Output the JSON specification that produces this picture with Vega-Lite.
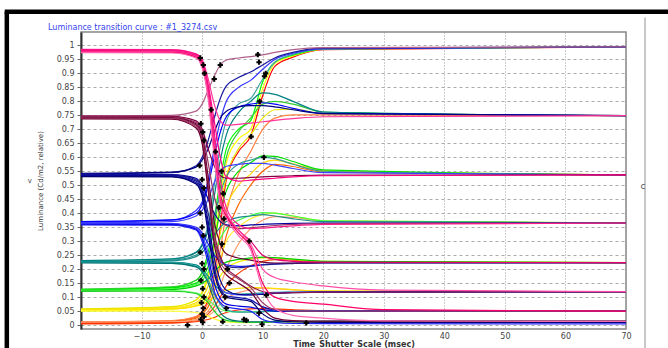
{
"$schema": "https://vega.github.io/schema/vega-lite/v6.json",
"width": 545, "height": 297,
"autosize": {"type": "none"},
"padding": {"left": 81, "top": 32, "right": 42, "bottom": 19},
"background": "white",
"title": {"text": "Luminance transition curve : #1_3274.csv", "anchor": "start", "frame": "group", "dx": -33, "offset": -30, "baseline": "bottom", "font": "DejaVu Sans", "fontSize": 8, "fontWeight": "normal", "color": "#3344ee"},
"config": {
 "view": {"stroke": "#888", "strokeWidth": 1.5},
 "axisY": {"tickCount": 21, "labelOverlap": false, "labelFlush": false, "labelFont": "DejaVu Sans", "labelFontSize": 8, "labelColor": "#444", "tickColor": "#666", "tickSize": 4, "labelPadding": 3, "domainColor": "#333", "domainWidth": 2, "grid": true, "gridColor": "#aaa", "gridDash": [3,3], "gridWidth": 1, "titleFont": "DejaVu Sans", "titleFontSize": 7, "titleFontWeight": "normal", "titleColor": "#333", "titlePadding": 13, "titleLineHeight": 11},
 "axisX": {"tickCount": 9, "labelOverlap": false, "labelFlush": false, "labelExpr": "datum.value == -20 ? '' : datum.label", "labelFont": "DejaVu Sans", "labelFontSize": 8, "labelColor": "#444", "ticks": false, "domain": false, "labelPadding": 3, "grid": true, "gridColor": "#999", "gridDash": [1,2], "gridWidth": 1, "titleFont": "DejaVu Sans", "titleFontSize": 8, "titleFontWeight": "bold", "titleColor": "#333", "titlePadding": 0}
},
"datasets": {
"curves": [
{"c":"RP","x":-20,"y":0.01},{"c":"RP","x":-5,"y":0.015},{"c":"RP","x":-1,"y":0.03},{"c":"RP","x":0,"y":0.05},{"c":"RP","x":1,"y":0.09},{"c":"RP","x":2,"y":0.18},{"c":"RP","x":3,"y":0.35},{"c":"RP","x":4,"y":0.52},{"c":"RP","x":6,"y":0.62},{"c":"RP","x":8,"y":0.675},{"c":"RP","x":10,"y":0.82},{"c":"RP","x":12,"y":0.925},{"c":"RP","x":15,"y":0.958},{"c":"RP","x":20,"y":0.985},{"c":"RP","x":70,"y":0.995},
{"c":"RM","x":-20,"y":0.012},{"c":"RM","x":-5,"y":0.016},{"c":"RM","x":-1,"y":0.03},{"c":"RM","x":0,"y":0.048},{"c":"RM","x":1,"y":0.08},{"c":"RM","x":2,"y":0.15},{"c":"RM","x":3,"y":0.27},{"c":"RM","x":4,"y":0.4},{"c":"RM","x":6,"y":0.54},{"c":"RM","x":8,"y":0.62},{"c":"RM","x":10,"y":0.7},{"c":"RM","x":12,"y":0.74},{"c":"RM","x":15,"y":0.752},{"c":"RM","x":20,"y":0.752},{"c":"RM","x":70,"y":0.749},
{"c":"RN","x":-20,"y":0.008},{"c":"RN","x":-5,"y":0.012},{"c":"RN","x":-1,"y":0.025},{"c":"RN","x":0,"y":0.04},{"c":"RN","x":1,"y":0.065},{"c":"RN","x":2,"y":0.12},{"c":"RN","x":3,"y":0.22},{"c":"RN","x":4,"y":0.32},{"c":"RN","x":6,"y":0.43},{"c":"RN","x":8,"y":0.5},{"c":"RN","x":10,"y":0.55},{"c":"RN","x":12,"y":0.575},{"c":"RN","x":15,"y":0.567},{"c":"RN","x":20,"y":0.547},{"c":"RN","x":70,"y":0.537},
{"c":"RB","x":-20,"y":0.006},{"c":"RB","x":-5,"y":0.01},{"c":"RB","x":-1,"y":0.02},{"c":"RB","x":0,"y":0.032},{"c":"RB","x":1,"y":0.05},{"c":"RB","x":2,"y":0.085},{"c":"RB","x":3,"y":0.14},{"c":"RB","x":4,"y":0.2},{"c":"RB","x":6,"y":0.29},{"c":"RB","x":8,"y":0.345},{"c":"RB","x":10,"y":0.375},{"c":"RB","x":12,"y":0.388},{"c":"RB","x":15,"y":0.385},{"c":"RB","x":20,"y":0.372},{"c":"RB","x":70,"y":0.365},
{"c":"RT","x":-20,"y":0.004},{"c":"RT","x":-5,"y":0.008},{"c":"RT","x":-1,"y":0.016},{"c":"RT","x":0,"y":0.025},{"c":"RT","x":1,"y":0.04},{"c":"RT","x":2,"y":0.065},{"c":"RT","x":3,"y":0.1},{"c":"RT","x":4,"y":0.14},{"c":"RT","x":6,"y":0.185},{"c":"RT","x":8,"y":0.212},{"c":"RT","x":10,"y":0.228},{"c":"RT","x":12,"y":0.234},{"c":"RT","x":15,"y":0.232},{"c":"RT","x":20,"y":0.227},{"c":"RT","x":70,"y":0.223},
{"c":"RG","x":-20,"y":0.01},{"c":"RG","x":-5,"y":0.012},{"c":"RG","x":-1,"y":0.018},{"c":"RG","x":0,"y":0.024},{"c":"RG","x":1,"y":0.033},{"c":"RG","x":2,"y":0.05},{"c":"RG","x":3,"y":0.075},{"c":"RG","x":4,"y":0.095},{"c":"RG","x":6,"y":0.116},{"c":"RG","x":8,"y":0.127},{"c":"RG","x":10,"y":0.131},{"c":"RG","x":12,"y":0.13},{"c":"RG","x":15,"y":0.126},{"c":"RG","x":20,"y":0.121},{"c":"RG","x":70,"y":0.119},
{"c":"RY","x":-20,"y":0.006},{"c":"RY","x":-5,"y":0.008},{"c":"RY","x":-1,"y":0.012},{"c":"RY","x":0,"y":0.016},{"c":"RY","x":1,"y":0.02},{"c":"RY","x":2,"y":0.027},{"c":"RY","x":3,"y":0.037},{"c":"RY","x":4,"y":0.045},{"c":"RY","x":6,"y":0.054},{"c":"RY","x":8,"y":0.058},{"c":"RY","x":10,"y":0.059},{"c":"RY","x":12,"y":0.058},{"c":"RY","x":15,"y":0.055},{"c":"RY","x":20,"y":0.052},{"c":"RY","x":70,"y":0.05},
{"c":"YP","x":-20,"y":0.056},{"c":"YP","x":-5,"y":0.065},{"c":"YP","x":-1,"y":0.09},{"c":"YP","x":0,"y":0.12},{"c":"YP","x":1,"y":0.18},{"c":"YP","x":2,"y":0.3},{"c":"YP","x":3,"y":0.45},{"c":"YP","x":4,"y":0.58},{"c":"YP","x":6,"y":0.665},{"c":"YP","x":8,"y":0.7},{"c":"YP","x":10,"y":0.845},{"c":"YP","x":12,"y":0.935},{"c":"YP","x":15,"y":0.962},{"c":"YP","x":20,"y":0.987},{"c":"YP","x":70,"y":0.995},
{"c":"YM","x":-20,"y":0.058},{"c":"YM","x":-5,"y":0.066},{"c":"YM","x":-1,"y":0.09},{"c":"YM","x":0,"y":0.115},{"c":"YM","x":1,"y":0.17},{"c":"YM","x":2,"y":0.28},{"c":"YM","x":3,"y":0.42},{"c":"YM","x":4,"y":0.53},{"c":"YM","x":6,"y":0.63},{"c":"YM","x":8,"y":0.68},{"c":"YM","x":10,"y":0.74},{"c":"YM","x":12,"y":0.77},{"c":"YM","x":15,"y":0.772},{"c":"YM","x":20,"y":0.757},{"c":"YM","x":70,"y":0.749},
{"c":"YN","x":-20,"y":0.054},{"c":"YN","x":-5,"y":0.062},{"c":"YN","x":-1,"y":0.08},{"c":"YN","x":0,"y":0.1},{"c":"YN","x":1,"y":0.14},{"c":"YN","x":2,"y":0.22},{"c":"YN","x":3,"y":0.33},{"c":"YN","x":4,"y":0.42},{"c":"YN","x":6,"y":0.5},{"c":"YN","x":8,"y":0.54},{"c":"YN","x":10,"y":0.58},{"c":"YN","x":12,"y":0.59},{"c":"YN","x":15,"y":0.577},{"c":"YN","x":20,"y":0.552},{"c":"YN","x":70,"y":0.537},
{"c":"YB","x":-20,"y":0.052},{"c":"YB","x":-5,"y":0.06},{"c":"YB","x":-1,"y":0.075},{"c":"YB","x":0,"y":0.09},{"c":"YB","x":1,"y":0.115},{"c":"YB","x":2,"y":0.17},{"c":"YB","x":3,"y":0.24},{"c":"YB","x":4,"y":0.3},{"c":"YB","x":6,"y":0.35},{"c":"YB","x":8,"y":0.38},{"c":"YB","x":10,"y":0.395},{"c":"YB","x":12,"y":0.4},{"c":"YB","x":15,"y":0.39},{"c":"YB","x":20,"y":0.373},{"c":"YB","x":70,"y":0.365},
{"c":"YT","x":-20,"y":0.05},{"c":"YT","x":-5,"y":0.057},{"c":"YT","x":-1,"y":0.07},{"c":"YT","x":0,"y":0.08},{"c":"YT","x":1,"y":0.1},{"c":"YT","x":2,"y":0.135},{"c":"YT","x":3,"y":0.175},{"c":"YT","x":4,"y":0.203},{"c":"YT","x":6,"y":0.226},{"c":"YT","x":8,"y":0.236},{"c":"YT","x":10,"y":0.24},{"c":"YT","x":12,"y":0.24},{"c":"YT","x":15,"y":0.235},{"c":"YT","x":20,"y":0.228},{"c":"YT","x":70,"y":0.223},
{"c":"YG","x":-20,"y":0.053},{"c":"YG","x":-5,"y":0.058},{"c":"YG","x":-1,"y":0.068},{"c":"YG","x":0,"y":0.075},{"c":"YG","x":1,"y":0.085},{"c":"YG","x":2,"y":0.1},{"c":"YG","x":3,"y":0.115},{"c":"YG","x":4,"y":0.124},{"c":"YG","x":6,"y":0.131},{"c":"YG","x":8,"y":0.134},{"c":"YG","x":10,"y":0.134},{"c":"YG","x":12,"y":0.131},{"c":"YG","x":15,"y":0.127},{"c":"YG","x":20,"y":0.122},{"c":"YG","x":70,"y":0.119},
{"c":"YR","x":-20,"y":0.051},{"c":"YR","x":-5,"y":0.05},{"c":"YR","x":-1,"y":0.045},{"c":"YR","x":0,"y":0.04},{"c":"YR","x":1,"y":0.032},{"c":"YR","x":2,"y":0.022},{"c":"YR","x":3,"y":0.015},{"c":"YR","x":4,"y":0.011},{"c":"YR","x":6,"y":0.009},{"c":"YR","x":8,"y":0.009},{"c":"YR","x":10,"y":0.01},{"c":"YR","x":12,"y":0.01},{"c":"YR","x":15,"y":0.01},{"c":"YR","x":20,"y":0.01},{"c":"YR","x":70,"y":0.01},
{"c":"GP","x":-20,"y":0.127},{"c":"GP","x":-5,"y":0.135},{"c":"GP","x":-1,"y":0.16},{"c":"GP","x":0,"y":0.19},{"c":"GP","x":1,"y":0.26},{"c":"GP","x":2,"y":0.38},{"c":"GP","x":3,"y":0.52},{"c":"GP","x":4,"y":0.63},{"c":"GP","x":6,"y":0.7},{"c":"GP","x":8,"y":0.73},{"c":"GP","x":10,"y":0.87},{"c":"GP","x":12,"y":0.94},{"c":"GP","x":15,"y":0.965},{"c":"GP","x":20,"y":0.988},{"c":"GP","x":70,"y":0.995},
{"c":"GM","x":-20,"y":0.129},{"c":"GM","x":-5,"y":0.137},{"c":"GM","x":-1,"y":0.16},{"c":"GM","x":0,"y":0.185},{"c":"GM","x":1,"y":0.24},{"c":"GM","x":2,"y":0.35},{"c":"GM","x":3,"y":0.49},{"c":"GM","x":4,"y":0.6},{"c":"GM","x":6,"y":0.69},{"c":"GM","x":8,"y":0.74},{"c":"GM","x":10,"y":0.79},{"c":"GM","x":12,"y":0.8},{"c":"GM","x":15,"y":0.79},{"c":"GM","x":20,"y":0.762},{"c":"GM","x":70,"y":0.749},
{"c":"GN","x":-20,"y":0.125},{"c":"GN","x":-5,"y":0.133},{"c":"GN","x":-1,"y":0.15},{"c":"GN","x":0,"y":0.17},{"c":"GN","x":1,"y":0.21},{"c":"GN","x":2,"y":0.3},{"c":"GN","x":3,"y":0.41},{"c":"GN","x":4,"y":0.48},{"c":"GN","x":6,"y":0.55},{"c":"GN","x":8,"y":0.58},{"c":"GN","x":10,"y":0.605},{"c":"GN","x":12,"y":0.603},{"c":"GN","x":15,"y":0.585},{"c":"GN","x":20,"y":0.555},{"c":"GN","x":70,"y":0.537},
{"c":"GB","x":-20,"y":0.123},{"c":"GB","x":-5,"y":0.13},{"c":"GB","x":-1,"y":0.145},{"c":"GB","x":0,"y":0.16},{"c":"GB","x":1,"y":0.19},{"c":"GB","x":2,"y":0.25},{"c":"GB","x":3,"y":0.31},{"c":"GB","x":4,"y":0.345},{"c":"GB","x":6,"y":0.375},{"c":"GB","x":8,"y":0.392},{"c":"GB","x":10,"y":0.402},{"c":"GB","x":12,"y":0.4},{"c":"GB","x":15,"y":0.39},{"c":"GB","x":20,"y":0.373},{"c":"GB","x":70,"y":0.365},
{"c":"GT","x":-20,"y":0.121},{"c":"GT","x":-5,"y":0.127},{"c":"GT","x":-1,"y":0.14},{"c":"GT","x":0,"y":0.15},{"c":"GT","x":1,"y":0.165},{"c":"GT","x":2,"y":0.19},{"c":"GT","x":3,"y":0.212},{"c":"GT","x":4,"y":0.225},{"c":"GT","x":6,"y":0.235},{"c":"GT","x":8,"y":0.24},{"c":"GT","x":10,"y":0.243},{"c":"GT","x":12,"y":0.241},{"c":"GT","x":15,"y":0.236},{"c":"GT","x":20,"y":0.228},{"c":"GT","x":70,"y":0.223},
{"c":"GY","x":-20,"y":0.124},{"c":"GY","x":-5,"y":0.123},{"c":"GY","x":-1,"y":0.115},{"c":"GY","x":0,"y":0.105},{"c":"GY","x":1,"y":0.09},{"c":"GY","x":2,"y":0.072},{"c":"GY","x":3,"y":0.058},{"c":"GY","x":4,"y":0.05},{"c":"GY","x":6,"y":0.047},{"c":"GY","x":8,"y":0.048},{"c":"GY","x":10,"y":0.049},{"c":"GY","x":12,"y":0.05},{"c":"GY","x":15,"y":0.05},{"c":"GY","x":20,"y":0.05},{"c":"GY","x":70,"y":0.05},
{"c":"GR","x":-20,"y":0.122},{"c":"GR","x":-5,"y":0.121},{"c":"GR","x":-1,"y":0.113},{"c":"GR","x":0,"y":0.1},{"c":"GR","x":1,"y":0.08},{"c":"GR","x":2,"y":0.05},{"c":"GR","x":3,"y":0.028},{"c":"GR","x":4,"y":0.017},{"c":"GR","x":6,"y":0.011},{"c":"GR","x":8,"y":0.01},{"c":"GR","x":10,"y":0.01},{"c":"GR","x":12,"y":0.011},{"c":"GR","x":15,"y":0.012},{"c":"GR","x":20,"y":0.012},{"c":"GR","x":70,"y":0.012},
{"c":"TP","x":-20,"y":0.229},{"c":"TP","x":-5,"y":0.235},{"c":"TP","x":-1,"y":0.26},{"c":"TP","x":0,"y":0.29},{"c":"TP","x":1,"y":0.36},{"c":"TP","x":2,"y":0.5},{"c":"TP","x":3,"y":0.64},{"c":"TP","x":4,"y":0.73},{"c":"TP","x":6,"y":0.79},{"c":"TP","x":8,"y":0.81},{"c":"TP","x":10,"y":0.88},{"c":"TP","x":12,"y":0.94},{"c":"TP","x":15,"y":0.968},{"c":"TP","x":20,"y":0.988},{"c":"TP","x":70,"y":0.995},
{"c":"TM","x":-20,"y":0.231},{"c":"TM","x":-5,"y":0.237},{"c":"TM","x":-1,"y":0.26},{"c":"TM","x":0,"y":0.285},{"c":"TM","x":1,"y":0.34},{"c":"TM","x":2,"y":0.46},{"c":"TM","x":3,"y":0.59},{"c":"TM","x":4,"y":0.68},{"c":"TM","x":6,"y":0.76},{"c":"TM","x":8,"y":0.8},{"c":"TM","x":10,"y":0.83},{"c":"TM","x":12,"y":0.825},{"c":"TM","x":15,"y":0.8},{"c":"TM","x":20,"y":0.762},{"c":"TM","x":70,"y":0.749},
{"c":"TN","x":-20,"y":0.227},{"c":"TN","x":-5,"y":0.232},{"c":"TN","x":-1,"y":0.25},{"c":"TN","x":0,"y":0.27},{"c":"TN","x":1,"y":0.31},{"c":"TN","x":2,"y":0.39},{"c":"TN","x":3,"y":0.47},{"c":"TN","x":4,"y":0.53},{"c":"TN","x":6,"y":0.575},{"c":"TN","x":8,"y":0.59},{"c":"TN","x":10,"y":0.6},{"c":"TN","x":12,"y":0.595},{"c":"TN","x":15,"y":0.575},{"c":"TN","x":20,"y":0.55},{"c":"TN","x":70,"y":0.537},
{"c":"TB","x":-20,"y":0.225},{"c":"TB","x":-5,"y":0.23},{"c":"TB","x":-1,"y":0.245},{"c":"TB","x":0,"y":0.26},{"c":"TB","x":1,"y":0.285},{"c":"TB","x":2,"y":0.32},{"c":"TB","x":3,"y":0.35},{"c":"TB","x":4,"y":0.37},{"c":"TB","x":6,"y":0.385},{"c":"TB","x":8,"y":0.39},{"c":"TB","x":10,"y":0.395},{"c":"TB","x":12,"y":0.39},{"c":"TB","x":15,"y":0.38},{"c":"TB","x":20,"y":0.37},{"c":"TB","x":70,"y":0.365},
{"c":"TG","x":-20,"y":0.226},{"c":"TG","x":-5,"y":0.225},{"c":"TG","x":-1,"y":0.215},{"c":"TG","x":0,"y":0.2},{"c":"TG","x":1,"y":0.175},{"c":"TG","x":2,"y":0.145},{"c":"TG","x":3,"y":0.125},{"c":"TG","x":4,"y":0.115},{"c":"TG","x":6,"y":0.11},{"c":"TG","x":8,"y":0.112},{"c":"TG","x":10,"y":0.115},{"c":"TG","x":12,"y":0.117},{"c":"TG","x":15,"y":0.118},{"c":"TG","x":20,"y":0.119},{"c":"TG","x":70,"y":0.119},
{"c":"TY","x":-20,"y":0.224},{"c":"TY","x":-5,"y":0.223},{"c":"TY","x":-1,"y":0.21},{"c":"TY","x":0,"y":0.195},{"c":"TY","x":1,"y":0.16},{"c":"TY","x":2,"y":0.11},{"c":"TY","x":3,"y":0.075},{"c":"TY","x":4,"y":0.055},{"c":"TY","x":6,"y":0.046},{"c":"TY","x":8,"y":0.046},{"c":"TY","x":10,"y":0.048},{"c":"TY","x":12,"y":0.049},{"c":"TY","x":15,"y":0.05},{"c":"TY","x":20,"y":0.05},{"c":"TY","x":70,"y":0.05},
{"c":"TR","x":-20,"y":0.222},{"c":"TR","x":-5,"y":0.221},{"c":"TR","x":-1,"y":0.208},{"c":"TR","x":0,"y":0.19},{"c":"TR","x":1,"y":0.15},{"c":"TR","x":2,"y":0.09},{"c":"TR","x":3,"y":0.045},{"c":"TR","x":4,"y":0.025},{"c":"TR","x":6,"y":0.014},{"c":"TR","x":8,"y":0.012},{"c":"TR","x":10,"y":0.012},{"c":"TR","x":12,"y":0.013},{"c":"TR","x":15,"y":0.013},{"c":"TR","x":20,"y":0.014},{"c":"TR","x":70,"y":0.014},
{"c":"BP","x":-20,"y":0.368},{"c":"BP","x":-5,"y":0.375},{"c":"BP","x":-1,"y":0.41},{"c":"BP","x":0,"y":0.44},{"c":"BP","x":1,"y":0.52},{"c":"BP","x":2,"y":0.63},{"c":"BP","x":3,"y":0.73},{"c":"BP","x":4,"y":0.8},{"c":"BP","x":6,"y":0.85},{"c":"BP","x":8,"y":0.875},{"c":"BP","x":10,"y":0.915},{"c":"BP","x":12,"y":0.95},{"c":"BP","x":15,"y":0.972},{"c":"BP","x":20,"y":0.988},{"c":"BP","x":70,"y":0.995},
{"c":"BM","x":-20,"y":0.37},{"c":"BM","x":-5,"y":0.376},{"c":"BM","x":-1,"y":0.4},{"c":"BM","x":0,"y":0.43},{"c":"BM","x":1,"y":0.5},{"c":"BM","x":2,"y":0.6},{"c":"BM","x":3,"y":0.69},{"c":"BM","x":4,"y":0.745},{"c":"BM","x":6,"y":0.78},{"c":"BM","x":8,"y":0.79},{"c":"BM","x":10,"y":0.795},{"c":"BM","x":12,"y":0.79},{"c":"BM","x":15,"y":0.775},{"c":"BM","x":20,"y":0.757},{"c":"BM","x":70,"y":0.749},
{"c":"BN","x":-20,"y":0.366},{"c":"BN","x":-5,"y":0.37},{"c":"BN","x":-1,"y":0.39},{"c":"BN","x":0,"y":0.41},{"c":"BN","x":1,"y":0.45},{"c":"BN","x":2,"y":0.51},{"c":"BN","x":3,"y":0.55},{"c":"BN","x":4,"y":0.568},{"c":"BN","x":6,"y":0.575},{"c":"BN","x":8,"y":0.578},{"c":"BN","x":10,"y":0.578},{"c":"BN","x":12,"y":0.572},{"c":"BN","x":15,"y":0.56},{"c":"BN","x":20,"y":0.545},{"c":"BN","x":70,"y":0.537},
{"c":"BT","x":-20,"y":0.364},{"c":"BT","x":-5,"y":0.363},{"c":"BT","x":-1,"y":0.35},{"c":"BT","x":0,"y":0.33},{"c":"BT","x":1,"y":0.29},{"c":"BT","x":2,"y":0.25},{"c":"BT","x":3,"y":0.228},{"c":"BT","x":4,"y":0.215},{"c":"BT","x":6,"y":0.21},{"c":"BT","x":8,"y":0.212},{"c":"BT","x":10,"y":0.216},{"c":"BT","x":12,"y":0.219},{"c":"BT","x":15,"y":0.221},{"c":"BT","x":20,"y":0.223},{"c":"BT","x":70,"y":0.223},
{"c":"BG","x":-20,"y":0.362},{"c":"BG","x":-5,"y":0.361},{"c":"BG","x":-1,"y":0.347},{"c":"BG","x":0,"y":0.32},{"c":"BG","x":1,"y":0.26},{"c":"BG","x":2,"y":0.18},{"c":"BG","x":3,"y":0.135},{"c":"BG","x":4,"y":0.115},{"c":"BG","x":6,"y":0.108},{"c":"BG","x":8,"y":0.108},{"c":"BG","x":10,"y":0.112},{"c":"BG","x":12,"y":0.115},{"c":"BG","x":15,"y":0.117},{"c":"BG","x":20,"y":0.119},{"c":"BG","x":70,"y":0.119},
{"c":"BY","x":-20,"y":0.36},{"c":"BY","x":-5,"y":0.359},{"c":"BY","x":-1,"y":0.343},{"c":"BY","x":0,"y":0.31},{"c":"BY","x":1,"y":0.24},{"c":"BY","x":2,"y":0.15},{"c":"BY","x":3,"y":0.095},{"c":"BY","x":4,"y":0.075},{"c":"BY","x":6,"y":0.068},{"c":"BY","x":8,"y":0.064},{"c":"BY","x":10,"y":0.055},{"c":"BY","x":12,"y":0.05},{"c":"BY","x":15,"y":0.049},{"c":"BY","x":20,"y":0.05},{"c":"BY","x":70,"y":0.05},
{"c":"BR","x":-20,"y":0.358},{"c":"BR","x":-5,"y":0.357},{"c":"BR","x":-1,"y":0.34},{"c":"BR","x":0,"y":0.3},{"c":"BR","x":1,"y":0.22},{"c":"BR","x":2,"y":0.12},{"c":"BR","x":3,"y":0.08},{"c":"BR","x":4,"y":0.065},{"c":"BR","x":6,"y":0.058},{"c":"BR","x":8,"y":0.05},{"c":"BR","x":10,"y":0.02},{"c":"BR","x":12,"y":0.01},{"c":"BR","x":15,"y":0.006},{"c":"BR","x":20,"y":0.005},{"c":"BR","x":70,"y":0.004},
{"c":"NP","x":-20,"y":0.541},{"c":"NP","x":-5,"y":0.545},{"c":"NP","x":-1,"y":0.57},{"c":"NP","x":0,"y":0.6},{"c":"NP","x":1,"y":0.66},{"c":"NP","x":2,"y":0.74},{"c":"NP","x":3,"y":0.81},{"c":"NP","x":4,"y":0.855},{"c":"NP","x":6,"y":0.885},{"c":"NP","x":8,"y":0.905},{"c":"NP","x":10,"y":0.93},{"c":"NP","x":12,"y":0.955},{"c":"NP","x":15,"y":0.975},{"c":"NP","x":20,"y":0.99},{"c":"NP","x":70,"y":0.995},
{"c":"NM","x":-20,"y":0.543},{"c":"NM","x":-5,"y":0.547},{"c":"NM","x":-1,"y":0.565},{"c":"NM","x":0,"y":0.59},{"c":"NM","x":1,"y":0.63},{"c":"NM","x":2,"y":0.69},{"c":"NM","x":3,"y":0.74},{"c":"NM","x":4,"y":0.765},{"c":"NM","x":6,"y":0.78},{"c":"NM","x":8,"y":0.785},{"c":"NM","x":10,"y":0.785},{"c":"NM","x":12,"y":0.78},{"c":"NM","x":15,"y":0.77},{"c":"NM","x":20,"y":0.756},{"c":"NM","x":70,"y":0.749},
{"c":"NB","x":-20,"y":0.539},{"c":"NB","x":-5,"y":0.538},{"c":"NB","x":-1,"y":0.525},{"c":"NB","x":0,"y":0.5},{"c":"NB","x":1,"y":0.45},{"c":"NB","x":2,"y":0.4},{"c":"NB","x":3,"y":0.37},{"c":"NB","x":4,"y":0.358},{"c":"NB","x":6,"y":0.355},{"c":"NB","x":8,"y":0.358},{"c":"NB","x":10,"y":0.36},{"c":"NB","x":12,"y":0.362},{"c":"NB","x":15,"y":0.364},{"c":"NB","x":20,"y":0.365},{"c":"NB","x":70,"y":0.365},
{"c":"NT","x":-20,"y":0.537},{"c":"NT","x":-5,"y":0.536},{"c":"NT","x":-1,"y":0.52},{"c":"NT","x":0,"y":0.49},{"c":"NT","x":1,"y":0.4},{"c":"NT","x":2,"y":0.3},{"c":"NT","x":3,"y":0.24},{"c":"NT","x":4,"y":0.21},{"c":"NT","x":6,"y":0.205},{"c":"NT","x":8,"y":0.21},{"c":"NT","x":10,"y":0.215},{"c":"NT","x":12,"y":0.218},{"c":"NT","x":15,"y":0.22},{"c":"NT","x":20,"y":0.222},{"c":"NT","x":70,"y":0.223},
{"c":"NG","x":-20,"y":0.535},{"c":"NG","x":-5,"y":0.534},{"c":"NG","x":-1,"y":0.515},{"c":"NG","x":0,"y":0.48},{"c":"NG","x":1,"y":0.37},{"c":"NG","x":2,"y":0.24},{"c":"NG","x":3,"y":0.16},{"c":"NG","x":4,"y":0.125},{"c":"NG","x":6,"y":0.11},{"c":"NG","x":8,"y":0.108},{"c":"NG","x":10,"y":0.11},{"c":"NG","x":12,"y":0.113},{"c":"NG","x":15,"y":0.116},{"c":"NG","x":20,"y":0.118},{"c":"NG","x":70,"y":0.119},
{"c":"NY","x":-20,"y":0.533},{"c":"NY","x":-5,"y":0.532},{"c":"NY","x":-1,"y":0.51},{"c":"NY","x":0,"y":0.47},{"c":"NY","x":1,"y":0.35},{"c":"NY","x":2,"y":0.21},{"c":"NY","x":3,"y":0.13},{"c":"NY","x":4,"y":0.105},{"c":"NY","x":6,"y":0.098},{"c":"NY","x":8,"y":0.09},{"c":"NY","x":10,"y":0.065},{"c":"NY","x":12,"y":0.054},{"c":"NY","x":15,"y":0.05},{"c":"NY","x":20,"y":0.05},{"c":"NY","x":70,"y":0.05},
{"c":"NR","x":-20,"y":0.531},{"c":"NR","x":-5,"y":0.53},{"c":"NR","x":-1,"y":0.505},{"c":"NR","x":0,"y":0.46},{"c":"NR","x":1,"y":0.33},{"c":"NR","x":2,"y":0.19},{"c":"NR","x":3,"y":0.12},{"c":"NR","x":4,"y":0.1},{"c":"NR","x":6,"y":0.092},{"c":"NR","x":8,"y":0.085},{"c":"NR","x":10,"y":0.04},{"c":"NR","x":12,"y":0.018},{"c":"NR","x":15,"y":0.012},{"c":"NR","x":20,"y":0.01},{"c":"NR","x":70,"y":0.01},
{"c":"MP","x":-20,"y":0.748},{"c":"MP","x":-5,"y":0.75},{"c":"MP","x":-1,"y":0.765},{"c":"MP","x":0,"y":0.79},{"c":"MP","x":1,"y":0.84},{"c":"MP","x":2,"y":0.89},{"c":"MP","x":3,"y":0.93},{"c":"MP","x":4,"y":0.948},{"c":"MP","x":6,"y":0.955},{"c":"MP","x":8,"y":0.96},{"c":"MP","x":10,"y":0.966},{"c":"MP","x":12,"y":0.975},{"c":"MP","x":15,"y":0.985},{"c":"MP","x":20,"y":0.992},{"c":"MP","x":70,"y":0.995},
{"c":"MN","x":-20,"y":0.747},{"c":"MN","x":-5,"y":0.746},{"c":"MN","x":-1,"y":0.73},{"c":"MN","x":0,"y":0.7},{"c":"MN","x":1,"y":0.63},{"c":"MN","x":2,"y":0.57},{"c":"MN","x":3,"y":0.535},{"c":"MN","x":4,"y":0.525},{"c":"MN","x":6,"y":0.525},{"c":"MN","x":8,"y":0.528},{"c":"MN","x":10,"y":0.53},{"c":"MN","x":12,"y":0.532},{"c":"MN","x":15,"y":0.534},{"c":"MN","x":20,"y":0.536},{"c":"MN","x":70,"y":0.537},
{"c":"MB","x":-20,"y":0.745},{"c":"MB","x":-5,"y":0.744},{"c":"MB","x":-1,"y":0.725},{"c":"MB","x":0,"y":0.69},{"c":"MB","x":1,"y":0.58},{"c":"MB","x":2,"y":0.46},{"c":"MB","x":3,"y":0.39},{"c":"MB","x":4,"y":0.355},{"c":"MB","x":6,"y":0.345},{"c":"MB","x":8,"y":0.348},{"c":"MB","x":10,"y":0.352},{"c":"MB","x":12,"y":0.356},{"c":"MB","x":15,"y":0.36},{"c":"MB","x":20,"y":0.363},{"c":"MB","x":70,"y":0.365},
{"c":"MT","x":-20,"y":0.743},{"c":"MT","x":-5,"y":0.742},{"c":"MT","x":-1,"y":0.72},{"c":"MT","x":0,"y":0.68},{"c":"MT","x":1,"y":0.53},{"c":"MT","x":2,"y":0.37},{"c":"MT","x":3,"y":0.29},{"c":"MT","x":4,"y":0.255},{"c":"MT","x":6,"y":0.24},{"c":"MT","x":8,"y":0.232},{"c":"MT","x":10,"y":0.225},{"c":"MT","x":12,"y":0.222},{"c":"MT","x":15,"y":0.222},{"c":"MT","x":20,"y":0.223},{"c":"MT","x":70,"y":0.223},
{"c":"MG","x":-20,"y":0.741},{"c":"MG","x":-5,"y":0.74},{"c":"MG","x":-1,"y":0.715},{"c":"MG","x":0,"y":0.67},{"c":"MG","x":1,"y":0.5},{"c":"MG","x":2,"y":0.33},{"c":"MG","x":3,"y":0.245},{"c":"MG","x":4,"y":0.205},{"c":"MG","x":6,"y":0.17},{"c":"MG","x":8,"y":0.14},{"c":"MG","x":10,"y":0.12},{"c":"MG","x":12,"y":0.114},{"c":"MG","x":15,"y":0.116},{"c":"MG","x":20,"y":0.118},{"c":"MG","x":70,"y":0.119},
{"c":"MY","x":-20,"y":0.739},{"c":"MY","x":-5,"y":0.738},{"c":"MY","x":-1,"y":0.71},{"c":"MY","x":0,"y":0.66},{"c":"MY","x":1,"y":0.49},{"c":"MY","x":2,"y":0.31},{"c":"MY","x":3,"y":0.225},{"c":"MY","x":4,"y":0.195},{"c":"MY","x":6,"y":0.165},{"c":"MY","x":8,"y":0.135},{"c":"MY","x":10,"y":0.08},{"c":"MY","x":12,"y":0.056},{"c":"MY","x":15,"y":0.05},{"c":"MY","x":20,"y":0.05},{"c":"MY","x":70,"y":0.05},
{"c":"MR","x":-20,"y":0.737},{"c":"MR","x":-5,"y":0.736},{"c":"MR","x":-1,"y":0.705},{"c":"MR","x":0,"y":0.65},{"c":"MR","x":1,"y":0.48},{"c":"MR","x":2,"y":0.29},{"c":"MR","x":3,"y":0.21},{"c":"MR","x":4,"y":0.18},{"c":"MR","x":6,"y":0.15},{"c":"MR","x":8,"y":0.12},{"c":"MR","x":10,"y":0.06},{"c":"MR","x":12,"y":0.025},{"c":"MR","x":15,"y":0.016},{"c":"MR","x":20,"y":0.014},{"c":"MR","x":70,"y":0.014},
{"c":"PM","x":-20,"y":0.986},{"c":"PM","x":-5,"y":0.985},{"c":"PM","x":-1,"y":0.97},{"c":"PM","x":0,"y":0.95},{"c":"PM","x":1,"y":0.88},{"c":"PM","x":2,"y":0.79},{"c":"PM","x":3,"y":0.73},{"c":"PM","x":4,"y":0.715},{"c":"PM","x":6,"y":0.718},{"c":"PM","x":8,"y":0.722},{"c":"PM","x":10,"y":0.727},{"c":"PM","x":12,"y":0.732},{"c":"PM","x":15,"y":0.738},{"c":"PM","x":20,"y":0.745},{"c":"PM","x":70,"y":0.749},
{"c":"PN","x":-20,"y":0.984},{"c":"PN","x":-5,"y":0.983},{"c":"PN","x":-1,"y":0.968},{"c":"PN","x":0,"y":0.945},{"c":"PN","x":1,"y":0.86},{"c":"PN","x":2,"y":0.73},{"c":"PN","x":3,"y":0.6},{"c":"PN","x":4,"y":0.53},{"c":"PN","x":6,"y":0.515},{"c":"PN","x":8,"y":0.518},{"c":"PN","x":10,"y":0.522},{"c":"PN","x":12,"y":0.525},{"c":"PN","x":15,"y":0.53},{"c":"PN","x":20,"y":0.534},{"c":"PN","x":70,"y":0.537},
{"c":"PB","x":-20,"y":0.982},{"c":"PB","x":-5,"y":0.981},{"c":"PB","x":-1,"y":0.965},{"c":"PB","x":0,"y":0.94},{"c":"PB","x":1,"y":0.85},{"c":"PB","x":2,"y":0.69},{"c":"PB","x":3,"y":0.52},{"c":"PB","x":4,"y":0.42},{"c":"PB","x":6,"y":0.36},{"c":"PB","x":8,"y":0.345},{"c":"PB","x":10,"y":0.347},{"c":"PB","x":12,"y":0.35},{"c":"PB","x":15,"y":0.355},{"c":"PB","x":20,"y":0.36},{"c":"PB","x":70,"y":0.365},
{"c":"PT","x":-20,"y":0.98},{"c":"PT","x":-5,"y":0.979},{"c":"PT","x":-1,"y":0.962},{"c":"PT","x":0,"y":0.935},{"c":"PT","x":1,"y":0.84},{"c":"PT","x":2,"y":0.66},{"c":"PT","x":3,"y":0.47},{"c":"PT","x":4,"y":0.4},{"c":"PT","x":6,"y":0.34},{"c":"PT","x":8,"y":0.3},{"c":"PT","x":10,"y":0.25},{"c":"PT","x":12,"y":0.235},{"c":"PT","x":15,"y":0.228},{"c":"PT","x":20,"y":0.225},{"c":"PT","x":70,"y":0.223},
{"c":"PG","x":-20,"y":0.978},{"c":"PG","x":-5,"y":0.977},{"c":"PG","x":-1,"y":0.96},{"c":"PG","x":0,"y":0.93},{"c":"PG","x":1,"y":0.83},{"c":"PG","x":2,"y":0.64},{"c":"PG","x":3,"y":0.45},{"c":"PG","x":4,"y":0.4},{"c":"PG","x":6,"y":0.34},{"c":"PG","x":8,"y":0.29},{"c":"PG","x":10,"y":0.2},{"c":"PG","x":12,"y":0.17},{"c":"PG","x":15,"y":0.155},{"c":"PG","x":20,"y":0.14},{"c":"PG","x":30,"y":0.125},{"c":"PG","x":70,"y":0.12},
{"c":"PY","x":-20,"y":0.976},{"c":"PY","x":-5,"y":0.975},{"c":"PY","x":-1,"y":0.958},{"c":"PY","x":0,"y":0.925},{"c":"PY","x":1,"y":0.82},{"c":"PY","x":2,"y":0.62},{"c":"PY","x":3,"y":0.44},{"c":"PY","x":4,"y":0.39},{"c":"PY","x":6,"y":0.33},{"c":"PY","x":8,"y":0.28},{"c":"PY","x":10,"y":0.15},{"c":"PY","x":12,"y":0.1},{"c":"PY","x":15,"y":0.085},{"c":"PY","x":20,"y":0.075},{"c":"PY","x":30,"y":0.055},{"c":"PY","x":70,"y":0.05},
{"c":"PR","x":-20,"y":0.974},{"c":"PR","x":-5,"y":0.973},{"c":"PR","x":-1,"y":0.955},{"c":"PR","x":0,"y":0.92},{"c":"PR","x":1,"y":0.81},{"c":"PR","x":2,"y":0.6},{"c":"PR","x":3,"y":0.43},{"c":"PR","x":4,"y":0.38},{"c":"PR","x":6,"y":0.32},{"c":"PR","x":8,"y":0.27},{"c":"PR","x":10,"y":0.13},{"c":"PR","x":12,"y":0.06},{"c":"PR","x":15,"y":0.035},{"c":"PR","x":20,"y":0.025},{"c":"PR","x":30,"y":0.015},{"c":"PR","x":70,"y":0.013}
],
"marks": [
{"x":-0.3,"y":0.955},{"x":0.2,"y":0.93},{"x":0.4,"y":0.9},{"x":-0.2,"y":0.72},{"x":0.1,"y":0.69},{"x":0.3,"y":0.66},{"x":-0.4,"y":0.57},{"x":0,"y":0.52},{"x":0.3,"y":0.49},{"x":-0.3,"y":0.4},{"x":0,"y":0.35},{"x":0.2,"y":0.32},{"x":-0.3,"y":0.26},{"x":0,"y":0.22},{"x":0.3,"y":0.2},{"x":-0.2,"y":0.16},{"x":0.1,"y":0.13},{"x":0.3,"y":0.1},{"x":-0.1,"y":0.08},{"x":0.2,"y":0.06},{"x":0,"y":0.04},{"x":0.3,"y":0.03},{"x":-0.2,"y":0.02},{"x":0.1,"y":0.01},
{"x":1.5,"y":0.77},{"x":2.2,"y":0.62},{"x":3.2,"y":0.55},{"x":3.5,"y":0.47},{"x":2.8,"y":0.42},{"x":3.6,"y":0.38},{"x":3.3,"y":0.29},{"x":4.2,"y":0.2},{"x":4.5,"y":0.15},{"x":3.8,"y":0.1},{"x":4,"y":0.06},{"x":3.4,"y":0.012},{"x":2,"y":0.88},{"x":3,"y":0.93},
{"x":9.2,"y":0.967},{"x":9.4,"y":0.94},{"x":10.5,"y":0.9},{"x":10.3,"y":0.89},{"x":8.1,"y":0.674},{"x":7.8,"y":0.3},{"x":10.6,"y":0.107},{"x":9.4,"y":0.043},{"x":7.3,"y":0.017},{"x":9.9,"y":0.003},{"x":10.2,"y":0.6},{"x":9.5,"y":0.8},
{"x":-2.4,"y":0.0},{"x":17.2,"y":0.008},{"x":6.9,"y":0.02}
],
"one": [{}]
},
"layer": [
{"data": {"name": "curves"},
 "mark": {"type": "line", "strokeWidth": 1.2, "interpolate": "monotone", "clip": true},
 "encoding": {
  "x": {"field": "x", "type": "quantitative",
    "scale": {"domain": [-20, 70], "nice": false, "zero": false},
    "axis": {"format": "d", "title": "Time_Shutter_Scale (msec)"}},
  "y": {"field": "y", "type": "quantitative",
    "scale": {"domain": [-0.014, 1.048], "nice": false, "zero": false},
    "axis": {"format": ".2~f", "title": ["<", "Luminance (Cd/m2, relative)"]}},
  "color": {"field": "c", "type": "nominal", "legend": null,
    "scale": {
     "domain": ["RP","RM","RN","RB","RT","RG","RY","YP","YM","YN","YB","YT","YG","YR","GP","GM","GN","GB","GT","GY","GR","TP","TM","TN","TB","TG","TY","TR","BP","BM","BN","BT","BG","BY","BR","NP","NM","NB","NT","NG","NY","NR","MP","MN","MB","MT","MG","MY","MR","PM","PN","PB","PT","PG","PY","PR"],
     "range": ["#ff0000","#ff8040","#ff6600","#ff9966","#ff4000","#ffa07a","#ff3300","#ffff00","#e6e600","#ffd700","#ffee33","#f0f000","#ffe000","#ffff40","#00ff00","#33cc33","#00e000","#40ff40","#00cc00","#66ff66","#20d020","#40a0a0","#008080","#339999","#1a8c8c","#008c8c","#2e9e9e","#007373","#3333ff","#0000ff","#4040ff","#1a1aff","#5050ff","#0000e0","#2020f0","#1a1aa0","#000080","#0000a0","#202090","#00008b","#1010b0","#000070","#b0608a","#800040","#993366","#660033","#8b1a4a","#a0406a","#700030","#ff3399","#ff0080","#ff1a8c","#e60073","#ff4da6","#ff0066","#ff66b2"]}}
 }},
{"data": {"name": "one"},
 "mark": {"type": "rule", "color": "black", "strokeWidth": 4.5, "clip": false},
 "encoding": {"x": {"datum": -32.6, "type": "quantitative"}, "x2": {"datum": 80}, "y": {"datum": 1.12, "type": "quantitative"}}},
{"data": {"name": "one"},
 "mark": {"type": "rule", "color": "black", "strokeWidth": 4.5, "clip": false},
 "encoding": {"x": {"datum": -32.25, "type": "quantitative"}, "y": {"datum": 1.12, "type": "quantitative"}, "y2": {"datum": -0.2}}},
{"data": {"name": "one"},
 "mark": {"type": "rule", "color": "#c8c8c8", "strokeWidth": 2, "clip": false},
 "encoding": {"x": {"datum": 73.14, "type": "quantitative"}, "y": {"datum": 1.1, "type": "quantitative"}, "y2": {"datum": -0.2}}},
{"data": {"name": "one"},
 "mark": {"type": "text", "text": "c", "font": "DejaVu Sans", "fontSize": 9, "color": "#555", "clip": false},
 "encoding": {"x": {"datum": 72.8, "type": "quantitative"}, "y": {"datum": 0.497, "type": "quantitative"}}},
{"data": {"name": "marks"},
 "mark": {"type": "point", "shape": "cross", "filled": true, "size": 28, "color": "black", "opacity": 1, "clip": true},
 "encoding": {"x": {"field": "x", "type": "quantitative"}, "y": {"field": "y", "type": "quantitative"}}}
]
}
